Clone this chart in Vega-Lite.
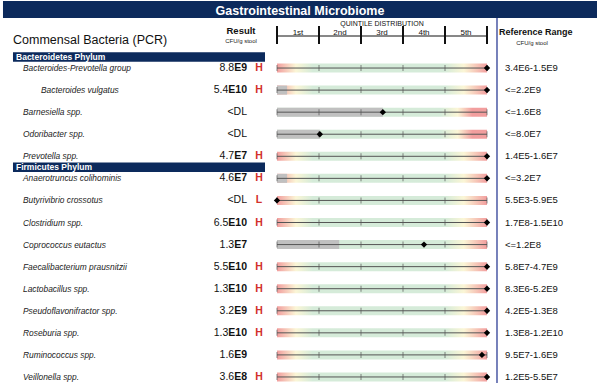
{
  "$schema": "https://vega.github.io/schema/vega-lite/v6.json",
  "width": 600,
  "height": 383,
  "autosize": {"type": "none"},
  "padding": 0,
  "background": "white",
  "config": {"view": {"stroke": null}, "font": "Liberation Sans", "axis": {"disable": true}},
  "datasets": {
    "taxa": [
      {"name": "Bacteroides-Prevotella group", "lvl": 1, "mant": "8.8", "exp": "E9", "flag": "H", "ref": "3.4E6-1.5E9", "pos": 5, "grey": 0, "grad": "both", "head": "Bacteroidetes Phylum"},
      {"name": "Bacteroides vulgatus", "lvl": 2, "mant": "5.4", "exp": "E10", "flag": "H", "ref": "<=2.2E9", "pos": 5, "grey": 0.24, "grad": "both", "head": ""},
      {"name": "Barnesiella spp.", "lvl": 1, "mant": "<DL", "exp": "", "flag": "", "ref": "<=1.6E8", "pos": 2.52, "grey": 2.52, "grad": "wide", "head": ""},
      {"name": "Odoribacter spp.", "lvl": 1, "mant": "<DL", "exp": "", "flag": "", "ref": "<=8.0E7", "pos": 1.02, "grey": 1.02, "grad": "wide", "head": ""},
      {"name": "Prevotella  spp.", "lvl": 1, "mant": "4.7", "exp": "E7", "flag": "H", "ref": "1.4E5-1.6E7", "pos": 5, "grey": 0, "grad": "both", "head": ""},
      {"name": "Anaerotruncus colihominis", "lvl": 1, "mant": "4.6", "exp": "E7", "flag": "H", "ref": "<=3.2E7", "pos": 5, "grey": 0.24, "grad": "both", "head": "Firmicutes Phylum"},
      {"name": "Butyrivibrio crossotus", "lvl": 1, "mant": "<DL", "exp": "", "flag": "L", "ref": "5.5E3-5.9E5", "pos": 0, "grey": 0, "grad": "both", "head": ""},
      {"name": "Clostridium spp.", "lvl": 1, "mant": "6.5", "exp": "E10", "flag": "H", "ref": "1.7E8-1.5E10", "pos": 5, "grey": 0, "grad": "both", "head": ""},
      {"name": "Coprococcus eutactus", "lvl": 1, "mant": "1.3", "exp": "E7", "flag": "", "ref": "<=1.2E8", "pos": 3.5, "grey": 1.48, "grad": "both", "head": ""},
      {"name": "Faecalibacterium prausnitzii", "lvl": 1, "mant": "5.5", "exp": "E10", "flag": "H", "ref": "5.8E7-4.7E9", "pos": 5, "grey": 0, "grad": "both", "head": ""},
      {"name": "Lactobacillus spp.", "lvl": 1, "mant": "1.3", "exp": "E10", "flag": "H", "ref": "8.3E6-5.2E9", "pos": 5, "grey": 0, "grad": "both", "head": ""},
      {"name": "Pseudoflavonifractor spp.", "lvl": 1, "mant": "3.2", "exp": "E9", "flag": "H", "ref": "4.2E5-1.3E8", "pos": 5, "grey": 0, "grad": "both", "head": ""},
      {"name": "Roseburia spp.", "lvl": 1, "mant": "1.3", "exp": "E10", "flag": "H", "ref": "1.3E8-1.2E10", "pos": 5, "grey": 0, "grad": "both", "head": ""},
      {"name": "Ruminococcus spp.", "lvl": 1, "mant": "1.6", "exp": "E9", "flag": "", "ref": "9.5E7-1.6E9", "pos": 4.88, "grey": 0, "grad": "both", "head": ""},
      {"name": "Veillonella spp.", "lvl": 1, "mant": "3.6", "exp": "E8", "flag": "H", "ref": "1.2E5-5.5E7", "pos": 5, "grey": 0, "grad": "both", "head": ""}
    ],
    "quint": [
      {"label": "1st", "mid": 0.5},
      {"label": "2nd", "mid": 1.5},
      {"label": "3rd", "mid": 2.5},
      {"label": "4th", "mid": 3.5},
      {"label": "5th", "mid": 4.5}
    ],
    "bounds": [{"b": 0}, {"b": 1}, {"b": 2}, {"b": 3}, {"b": 4}, {"b": 5}]
  },
  "resolve": {"scale": {"y": "independent"}},
  "layer": [
    {
      "data": {"values": [{}]},
      "layer": [
        {
          "mark": {"type": "rect", "fill": "#0c2a5c"},
          "encoding": {
            "x": {"datum": -6.524, "type": "quantitative", "scale": {"domain": [0, 5], "range": [277, 487], "zero": false, "nice": false}, "axis": null},
            "x2": {"datum": 7.619},
            "y": {"datum": 1, "type": "quantitative", "scale": {"domain": [0, 383], "range": [0, 383], "zero": false, "nice": false}, "axis": null},
            "y2": {"datum": 18}
          }
        },
        {
          "mark": {"type": "text", "text": "Gastrointestinal Microbiome", "fontSize": 12.5, "fontWeight": "bold", "color": "white", "align": "center", "baseline": "middle"},
          "encoding": {"x": {"datum": 0.5476}, "y": {"datum": 10.5}}
        },
        {
          "mark": {"type": "text", "text": "Commensal Bacteria (PCR)", "fontSize": 12.5, "color": "#111", "align": "left", "baseline": "alphabetic"},
          "encoding": {"x": {"datum": -6.286}, "y": {"datum": 44}}
        },
        {
          "mark": {"type": "text", "text": "Result", "fontSize": 9.5, "fontWeight": "bold", "color": "#111", "align": "center", "baseline": "alphabetic"},
          "encoding": {"x": {"datum": -0.857}, "y": {"datum": 34}}
        },
        {
          "mark": {"type": "text", "text": "CFU/g stool", "fontSize": 6, "color": "#222", "align": "center", "baseline": "alphabetic"},
          "encoding": {"x": {"datum": -0.857}, "y": {"datum": 42.5}}
        },
        {
          "mark": {"type": "text", "text": "QUINTILE DISTRIBUTION", "fontSize": 7, "color": "#111", "align": "center", "baseline": "alphabetic"},
          "encoding": {"x": {"datum": 2.5}, "y": {"datum": 25.5}}
        },
        {
          "mark": {"type": "rule", "color": "#111", "strokeWidth": 1},
          "encoding": {"x": {"datum": 0}, "x2": {"datum": 5}, "y": {"datum": 36}}
        },
        {
          "data": {"name": "bounds"},
          "mark": {"type": "rule", "color": "#111", "strokeWidth": 2},
          "encoding": {"x": {"field": "b", "type": "quantitative"}, "y": {"datum": 26}, "y2": {"datum": 44}}
        },
        {
          "data": {"name": "quint"},
          "mark": {"type": "text", "fontSize": 8, "color": "#111", "align": "center", "baseline": "alphabetic"},
          "encoding": {"x": {"field": "mid", "type": "quantitative"}, "y": {"datum": 34.5}, "text": {"field": "label"}}
        },
        {
          "mark": {"type": "text", "text": "Reference Range", "fontSize": 9, "fontWeight": "bold", "color": "#111", "align": "left", "baseline": "alphabetic"},
          "encoding": {"x": {"datum": 5.286}, "y": {"datum": 35}}
        },
        {
          "mark": {"type": "text", "text": "CFU/g stool", "fontSize": 6, "color": "#222", "align": "center", "baseline": "alphabetic"},
          "encoding": {"x": {"datum": 6.071}, "y": {"datum": 45}}
        },
        {
          "mark": {"type": "rule", "color": "#4a58a4", "strokeWidth": 1.5},
          "encoding": {"x": {"datum": 5.238}, "y": {"datum": 18}, "y2": {"datum": 383}}
        }
      ]
    },
    {
      "data": {"name": "taxa"},
      "encoding": {
        "y": {
          "field": "name", "type": "nominal", "sort": null, "axis": null,
          "scale": {
            "type": "band",
            "domain": ["Bacteroides-Prevotella group", "Bacteroides vulgatus", "Barnesiella spp.", "Odoribacter spp.", "Prevotella  spp.", "Anaerotruncus colihominis", "Butyrivibrio crossotus", "Clostridium spp.", "Coprococcus eutactus", "Faecalibacterium prausnitzii", "Lactobacillus spp.", "Pseudoflavonifractor spp.", "Roseburia spp.", "Ruminococcus spp.", "Veillonella spp."],
            "range": [57, 388], "paddingInner": 0, "paddingOuter": 0
          }
        }
      },
      "layer": [
        {
          "transform": [{"filter": "datum.grad == 'both'"}],
          "mark": {"type": "bar", "height": 9, "fill": {"gradient": "linear", "x1": 0, "x2": 1, "y1": 0, "y2": 0, "stops": [
            {"offset": 0, "color": "#f29e9e"}, {"offset": 0.09, "color": "#fbf6d6"}, {"offset": 0.17, "color": "#d5ebd9"},
            {"offset": 0.8, "color": "#d5ebd9"}, {"offset": 0.89, "color": "#fbf6d6"}, {"offset": 1, "color": "#f29e9e"}]}},
          "encoding": {"x": {"datum": 0}, "x2": {"datum": 5}}
        },
        {
          "transform": [{"filter": "datum.grad == 'wide'"}],
          "mark": {"type": "bar", "height": 9, "fill": {"gradient": "linear", "x1": 0, "x2": 1, "y1": 0, "y2": 0, "stops": [
            {"offset": 0, "color": "#d5ebd9"}, {"offset": 0.78, "color": "#d5ebd9"}, {"offset": 0.86, "color": "#fbf6d6"},
            {"offset": 0.93, "color": "#f29e9e"}, {"offset": 1, "color": "#f29e9e"}]}},
          "encoding": {"x": {"datum": 0}, "x2": {"datum": 5}}
        },
        {
          "transform": [{"filter": "datum.grey > 0"}],
          "mark": {"type": "bar", "height": 9, "fill": "#c0c0c0"},
          "encoding": {"x": {"datum": 0}, "x2": {"field": "grey", "type": "quantitative"}}
        },
        {
          "mark": {"type": "rule", "color": "#555", "strokeWidth": 1},
          "encoding": {"x": {"datum": 0}, "x2": {"datum": 5}}
        },
        {"mark": {"type": "tick", "orient": "vertical", "size": 6, "thickness": 1, "color": "#555"}, "encoding": {"x": {"datum": 0}}},
        {"mark": {"type": "tick", "orient": "vertical", "size": 6, "thickness": 1, "color": "#555"}, "encoding": {"x": {"datum": 1}}},
        {"mark": {"type": "tick", "orient": "vertical", "size": 6, "thickness": 1, "color": "#555"}, "encoding": {"x": {"datum": 2}}},
        {"mark": {"type": "tick", "orient": "vertical", "size": 6, "thickness": 1, "color": "#555"}, "encoding": {"x": {"datum": 3}}},
        {"mark": {"type": "tick", "orient": "vertical", "size": 6, "thickness": 1, "color": "#555"}, "encoding": {"x": {"datum": 4}}},
        {"mark": {"type": "tick", "orient": "vertical", "size": 6, "thickness": 1, "color": "#555"}, "encoding": {"x": {"datum": 5}}},
        {
          "mark": {"type": "point", "shape": "diamond", "filled": true, "color": "black", "opacity": 1, "size": 40},
          "encoding": {"x": {"field": "pos", "type": "quantitative"}}
        },
        {
          "transform": [{"filter": "datum.lvl == 1"}],
          "mark": {"type": "text", "fontSize": 8.4, "fontStyle": "italic", "color": "#222", "align": "left", "baseline": "middle"},
          "encoding": {"x": {"datum": -6.048}, "text": {"field": "name"}}
        },
        {
          "transform": [{"filter": "datum.lvl == 2"}],
          "mark": {"type": "text", "fontSize": 8.4, "fontStyle": "italic", "color": "#222", "align": "left", "baseline": "middle"},
          "encoding": {"x": {"datum": -5.619}, "text": {"field": "name"}}
        },
        {
          "mark": {"type": "text", "fontSize": 10.5, "fontWeight": "bold", "color": "#111", "align": "right", "baseline": "middle"},
          "encoding": {"x": {"datum": -0.714}, "text": {"field": "exp"}}
        },
        {
          "transform": [{"filter": "length(datum.exp) == 2"}],
          "mark": {"type": "text", "fontSize": 10.5, "color": "#111", "align": "right", "baseline": "middle", "dx": -12.8},
          "encoding": {"x": {"datum": -0.714}, "text": {"field": "mant"}}
        },
        {
          "transform": [{"filter": "length(datum.exp) == 3"}],
          "mark": {"type": "text", "fontSize": 10.5, "color": "#111", "align": "right", "baseline": "middle", "dx": -18.7},
          "encoding": {"x": {"datum": -0.714}, "text": {"field": "mant"}}
        },
        {
          "transform": [{"filter": "length(datum.exp) == 0"}],
          "mark": {"type": "text", "fontSize": 10.5, "color": "#111", "align": "right", "baseline": "middle"},
          "encoding": {"x": {"datum": -0.714}, "text": {"field": "mant"}}
        },
        {
          "mark": {"type": "text", "fontSize": 10.5, "fontWeight": "bold", "color": "#d2312b", "align": "center", "baseline": "middle"},
          "encoding": {"x": {"datum": -0.4286}, "text": {"field": "flag"}}
        },
        {
          "mark": {"type": "text", "fontSize": 9.5, "color": "#111", "align": "left", "baseline": "middle"},
          "encoding": {"x": {"datum": 5.4286}, "text": {"field": "ref"}}
        },
        {
          "transform": [{"filter": "datum.head != ''"}],
          "mark": {"type": "rule", "color": "#0c2a5c", "strokeWidth": 9.5, "strokeCap": "butt"},
          "encoding": {"x": {"datum": -6.286}, "x2": {"datum": -0.2857}, "y": {"field": "name", "type": "nominal", "bandPosition": 0}}
        },
        {
          "transform": [{"filter": "datum.head != ''"}],
          "mark": {"type": "text", "fontSize": 8.5, "fontWeight": "bold", "color": "white", "align": "left", "baseline": "middle"},
          "encoding": {"x": {"datum": -6.214}, "y": {"field": "name", "type": "nominal", "bandPosition": 0}, "text": {"field": "head"}}
        }
      ]
    }
  ]
}
